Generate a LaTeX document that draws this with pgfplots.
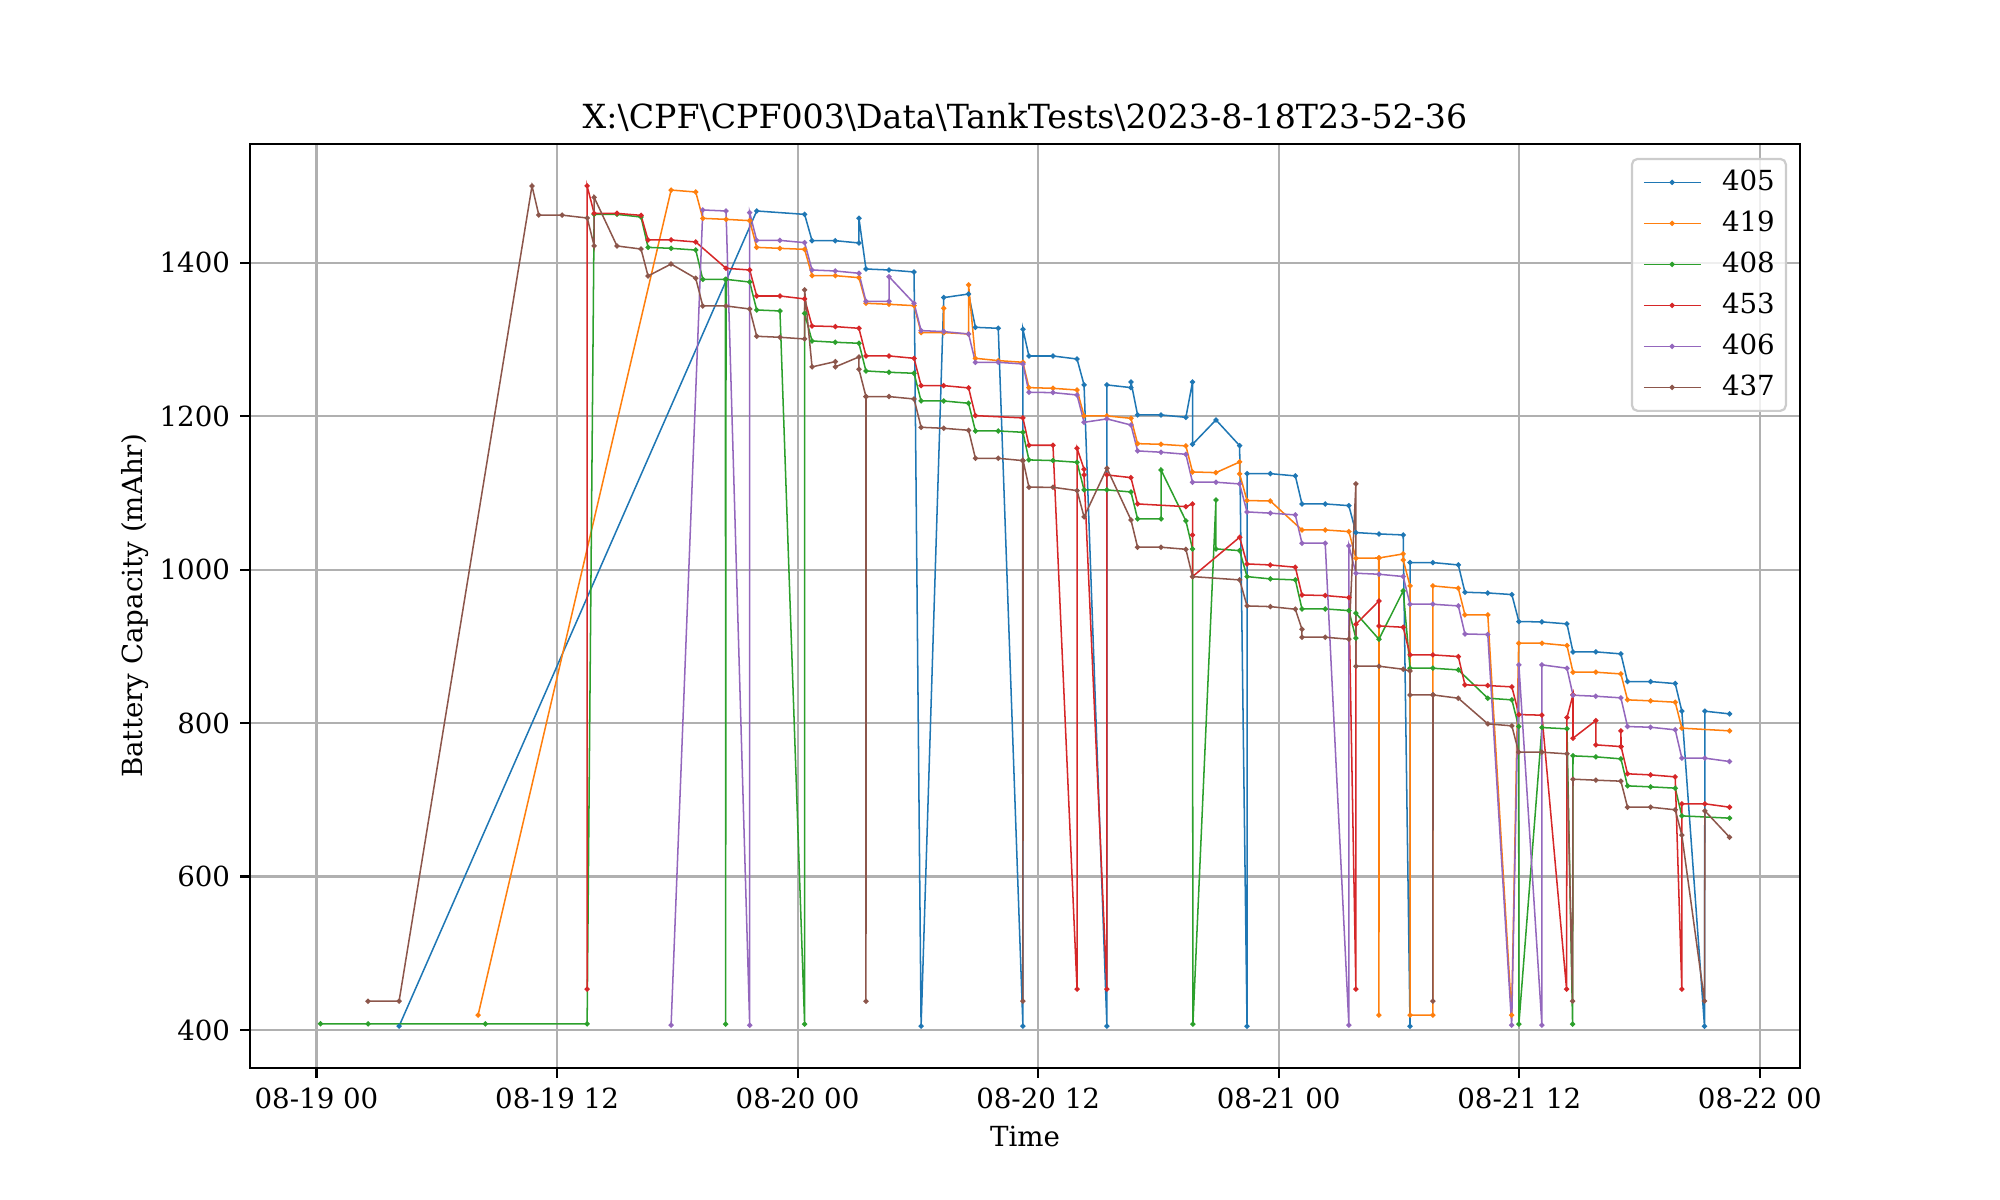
\documentclass[border=0pt]{standalone}
\usepackage{fontspec}
\setmainfont{DejaVu Serif}
\usepackage{pgfplots}
\pgfplotsset{compat=1.18}
\definecolor{cA}{HTML}{1F77B4}
\definecolor{cB}{HTML}{FF7F0E}
\definecolor{cC}{HTML}{2CA02C}
\definecolor{cD}{HTML}{D62728}
\definecolor{cE}{HTML}{9467BD}
\definecolor{cF}{HTML}{8C564B}
\definecolor{gridgray}{HTML}{B0B0B0}
\begin{document}
\begin{tikzpicture}
\path[use as bounding box] (0,0) rectangle (10in,6in);
\begin{axis}[
  at={(1.25in,0.66in)}, anchor=south west,
  scale only axis, width=7.75in, height=4.62in,
  xmin=-3.317, xmax=74.005, ymin=350.5, ymax=1554.7,
  xtick={0,12,24,36,48,60,72},
  xticklabels={08-19 00,08-19 12,08-20 00,08-20 12,08-21 00,08-21 12,08-22 00},
  ytick={400,600,800,1000,1200,1400},
  minor tick num=0,
  grid=major, grid style={color=gridgray, line width=0.8pt},
  axis line style={line width=0.8pt, black},
  tick pos=left, tick align=outside, major tick length=3.5pt,
  every tick/.style={black, line width=0.8pt},
  ticklabel style={font=\fontsize{10}{12}\selectfont},
  xticklabel style={anchor=north, inner sep=0pt, yshift=-3.5pt},
  yticklabel style={anchor=east, inner sep=0pt, xshift=-3.5pt},
  /pgf/number format/assume math mode=true,
  /pgf/number format/1000 sep={},
  scaled y ticks=false,
  every axis title shift=0pt,
  title={X:\textbackslash CPF\textbackslash CPF003\textbackslash Data\textbackslash TankTests\textbackslash 2023-8-18T23-52-36},
  title style={font=\fontsize{12}{14}\selectfont, at={(axis description cs:0.5,1.0292)}, anchor=center, inner sep=0pt},
  xlabel={Time},
  xlabel style={font=\fontsize{10}{12}\selectfont, at={(axis description cs:0.5,-0.0741)}, anchor=center, inner sep=0pt},
  ylabel={Battery Capacity (mAhr)},
  ylabel style={font=\fontsize{10}{12}\selectfont, at={(axis description cs:-0.0743,0.5)}, anchor=center, inner sep=0pt},
  every axis plot/.append style={line width=0.55pt, mark=*, mark size=0.65pt},
  legend image code/.code={\draw[mark repeat=2,mark phase=2,#1] plot coordinates {(0cm,0cm) (0.36cm,0cm) (0.72cm,0cm)};},
  legend cell align=left,
  legend style={at={(1,1)}, anchor=north east, xshift=-4.7pt, yshift=-5pt,
    draw=black!20, line width=0.8pt, rounded corners=2pt, fill=white, fill opacity=0.8, text opacity=1, draw opacity=1,
    font=\fontsize{10}{12}\selectfont, inner xsep=4pt, inner ysep=4pt, row sep=5.9pt, column sep=7.5pt,
    nodes={inner sep=0pt}},
]
\addplot[color=cA, mark options={fill=cA}] coordinates {
(4.12,405) (21.96,1467.4) (24.35,1463) (24.72,1428.7) (25.88,1428.7) (27.06,1425.7) (27.06,1458) (27.41,1391.8) (28.56,1390.5) (29.81,1387.9) (30.16,405) (31.29,1354.5) (32.53,1359.2) (32.87,1315.8) (34.01,1314.5) (35.24,405) (35.24,1313.2) (35.54,1278.4) (36.74,1278.4) (37.94,1274.5) (38.29,1240.7) (39.43,405) (39.43,1240.7) (40.63,1237.2) (40.63,1244.6) (40.96,1201.6) (42.13,1201.6) (43.37,1198.5) (43.70,1244.6) (43.70,1163.3) (44.87,1195.1) (46.05,1161.6) (46.42,405) (46.42,1125.1) (47.58,1125.1) (48.83,1122.1) (49.16,1085.6) (50.32,1085.6) (51.50,1083.4) (51.85,1048.3) (53.00,1046.5) (54.21,1045.2) (54.55,405) (54.55,1009.2) (55.69,1009.2) (56.96,1006.1) (57.29,970.5) (58.43,969.6) (59.63,967.5) (59.98,932.3) (61.13,931.9) (62.38,929.3) (62.68,892.8) (63.82,892.8) (65.07,890.2) (65.40,854.1) (66.55,854.1) (67.78,851.5) (68.11,815.5) (69.24,405) (69.26,815.5) (70.49,812)
};
\addlegendentry{405}
\addplot[color=cB, mark options={fill=cB}] coordinates {
(8.06,419.4) (17.69,1494.7) (18.92,1492.1) (19.27,1457.8) (20.43,1456.5) (21.61,1454.8) (21.96,1420) (23.12,1418.7) (24.35,1417.4) (24.72,1383.1) (25.88,1383.1) (27.06,1380.5) (27.41,1347.1) (28.56,1345.8) (29.81,1344) (30.16,1308.9) (31.29,1308.9) (31.29,1340.6) (31.30,1308.9) (32.53,1307.1) (32.53,1371) (32.87,1275.4) (34.01,1272.4) (35.24,1270.2) (35.54,1237.2) (36.74,1236.3) (37.94,1234.1) (38.29,1200.3) (39.43,1200.3) (40.63,1197.2) (40.96,1164.2) (42.13,1163.3) (43.37,1161.2) (43.70,1127.3) (44.87,1126.4) (46.05,1140.3) (46.05,1124.7) (46.42,1090) (47.58,1089.5) (49.16,1051.7) (50.32,1051.7) (51.50,1049.6) (51.85,1014.8) (52.99,1015.2) (53.00,419.4) (53.01,1015.2) (54.21,1020.5) (54.21,1012.6) (54.55,978.8) (54.55,419.4) (55.69,419.4) (55.69,978.8) (56.96,975.7) (57.29,941) (58.43,941) (59.62,419.4) (59.97,904.1) (61.13,904.1) (62.38,901) (62.68,866.3) (63.82,866.3) (65.07,864.1) (65.40,830.3) (66.55,829) (67.78,827.2) (68.11,793.4) (70.49,789.9)
};
\addlegendentry{419}
\addplot[color=cC, mark options={fill=cC}] coordinates {
(0.20,408.1) (2.57,408) (8.43,408) (13.50,408) (13.85,1463) (14.99,1463) (16.19,1459.5) (16.54,1420) (17.69,1418.7) (18.92,1416.5) (19.27,1378.3) (20.40,1378.3) (20.41,407.6) (20.43,1378.3) (21.61,1374.8) (21.96,1338.4) (23.12,1337.1) (24.35,407.7) (24.35,1334) (24.72,1298) (25.88,1296.3) (27.06,1295) (27.41,1258.9) (28.56,1257.2) (29.81,1255.9) (30.16,1219.8) (31.29,1219.8) (32.53,1216.8) (32.87,1180.7) (34.01,1180.7) (35.24,1179) (35.54,1143) (36.74,1142.1) (37.94,1139.9) (38.29,1103.9) (39.43,1103.9) (40.63,1101.2) (40.96,1066.1) (42.13,1066.1) (42.13,1129.9) (43.37,1063.5) (43.70,1027) (43.72,407.7) (44.87,1090.8) (44.87,1027) (46.05,1024.8) (46.42,990.9) (47.58,987.9) (48.83,986.6) (49.16,948.8) (50.32,948.8) (51.50,946.6) (51.85,910.6) (51.85,943.2) (53.00,909.3) (54.21,972.3) (54.55,871.5) (55.69,871.5) (56.96,869.3) (58.43,832.4) (59.63,830.3) (59.97,795.5) (59.98,407.7) (61.13,794.2) (62.38,792.5) (62.66,407.7) (62.68,757.3) (63.82,756) (65.07,753.4) (65.40,718.2) (66.55,716.9) (67.78,715.2) (68.11,679.1) (70.49,676.1)
};
\addlegendentry{408}
\addplot[color=cD, mark options={fill=cD}] coordinates {
(13.50,453.2) (13.50,1500) (13.85,1464.3) (14.99,1464.3) (16.19,1461.7) (16.54,1429.6) (17.69,1429.6) (18.92,1427) (20.43,1392.7) (21.61,1390.5) (21.96,1356.6) (23.12,1356.6) (24.35,1352.8) (24.72,1317.6) (25.88,1316.7) (27.06,1314.5) (27.41,1278.5) (28.56,1278.5) (29.81,1275.4) (30.16,1239.8) (31.29,1239.8) (32.53,1236.8) (32.87,1200.7) (35.24,1197.7) (35.54,1162.1) (36.74,1162.1) (37.94,453.3) (37.94,1158.1) (38.29,1130.8) (38.29,1123.4) (39.43,453.3) (39.43,1123.4) (40.63,1119.9) (40.96,1085.6) (43.37,1082.1) (43.70,1085.6) (43.70,1045.2) (43.70,990.9) (46.05,1042.2) (46.42,1007.4) (47.58,1006.1) (48.83,1003.1) (49.16,967) (50.32,966.2) (51.50,963.6) (51.85,453.3) (51.85,928.8) (53.00,959.2) (53.00,926.6) (54.21,924.9) (54.55,888.9) (55.69,888.9) (56.96,886.7) (57.29,849.8) (58.43,848.9) (59.63,847.2) (59.98,811.1) (61.13,810.3) (62.36,453.3) (62.38,807.2) (62.68,836.8) (62.68,780.3) (63.82,803.3) (63.82,771.6) (65.07,769.4) (65.07,789.9) (65.08,769.4) (65.40,733.9) (66.55,732.5) (67.78,729.9) (68.11,453.3) (68.11,694.8) (69.26,694.8) (70.49,690.4)
};
\addlegendentry{453}
\addplot[color=cE, mark options={fill=cE}] coordinates {
(17.69,406.3) (19.27,1468.7) (20.43,1467.4) (21.61,406.3) (21.61,1465.2) (21.96,1429.1) (23.12,1429.1) (24.35,1426.1) (24.72,1390.5) (25.88,1389.2) (27.06,1386.2) (27.41,1349.7) (28.56,1349.7) (28.56,1381.8) (29.81,1347.1) (30.16,1311.5) (31.29,1310.2) (32.53,1307.1) (32.87,1270.2) (34.01,1270.2) (35.24,1268) (35.54,1231.1) (36.74,1230.7) (37.94,1227.6) (38.29,1192) (39.43,1196.4) (40.63,1188.5) (40.96,1154.7) (42.13,1153) (43.37,1150.3) (43.70,1113.9) (44.87,1113.9) (46.05,1111.7) (46.42,1075.2) (47.58,1073.6) (48.83,1071.3) (49.16,1034.4) (50.32,1034.4) (51.50,406.4) (51.50,1030.9) (51.85,995.3) (53.00,994) (54.21,991) (54.55,954.9) (55.69,954.9) (56.96,952.7) (57.29,916.2) (58.43,915.4) (59.62,406.4) (59.98,875.9) (61.13,406.4) (61.13,875.9) (62.38,871.5) (62.68,836.3) (63.82,835) (65.07,832.9) (65.40,795.5) (66.55,794.6) (67.78,791.2) (68.11,754.3) (69.26,754.3) (70.49,749.9)
};
\addlegendentry{406}
\addplot[color=cF, mark options={fill=cF}] coordinates {
(2.57,437.6) (4.12,437.6) (10.75,1500) (11.09,1462.1) (12.25,1462) (13.51,1458.2) (13.85,1421.8) (13.85,1485.2) (14.99,1421.8) (16.19,1417.8) (16.54,1382.7) (17.69,1398.3) (18.92,1379.6) (19.27,1343.6) (20.43,1343.6) (21.61,1339.7) (21.96,1304.1) (23.12,1302.8) (24.35,1300.6) (24.35,1364.5) (24.72,1264.2) (25.88,1271.1) (25.88,1264.2) (27.06,1277.2) (27.06,1261.1) (27.41,1225.5) (27.41,437.6) (27.42,1225.5) (28.56,1225.5) (29.81,1222.4) (30.16,1185.5) (31.29,1184.2) (32.53,1181.6) (32.87,1145.1) (34.01,1145.1) (35.22,1142.1) (35.24,437.6) (35.25,1142.1) (35.54,1107.4) (36.74,1107.3) (37.94,1103) (38.29,1068.7) (39.43,1132.1) (40.63,1064.8) (40.96,1029.2) (42.13,1029.2) (43.37,1026.5) (43.70,990.9) (46.05,986.6) (46.42,952.7) (47.58,951.8) (48.83,948.4) (49.16,922.3) (49.16,911.9) (50.32,911.9) (51.50,909.3) (51.85,1111.7) (51.85,874.1) (53.00,874.1) (54.21,870.2) (54.55,868) (54.55,836.7) (55.69,836.7) (55.69,437.7) (55.70,836.7) (56.96,832.4) (58.43,799) (59.63,796.4) (59.97,762.1) (61.13,762.1) (62.38,759.9) (62.66,437.7) (62.68,726.9) (63.82,725.6) (65.07,724.3) (65.40,690.4) (66.55,690.4) (67.78,687) (68.11,653.9) (69.24,437.7) (69.26,685.6) (70.49,651.3)
};
\addlegendentry{437}
\end{axis}
\end{tikzpicture}
\end{document}
